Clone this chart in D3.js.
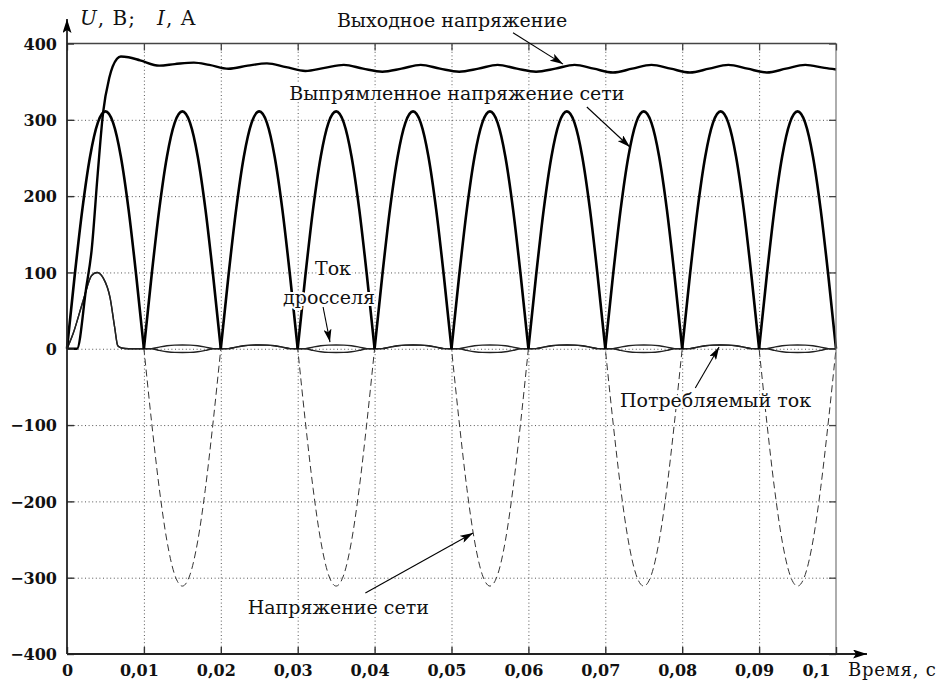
<!DOCTYPE html>
<html><head><meta charset="utf-8">
<script src="https://cdn.jsdelivr.net/npm/d3@7/dist/d3.min.js"></script>
<style>body{margin:0;background:#fff}svg{display:block}</style>
</head><body>
<svg id="chart" width="941" height="688"></svg>
<script>
// ---------- data ----------
const xTicks = [0, 0.01, 0.02, 0.03, 0.04, 0.05, 0.06, 0.07, 0.08, 0.09, 0.1];
const xTickLabels = ["0", "0,01", "0,02", "0,03", "0,04", "0,05", "0,06", "0,07", "0,08", "0,09", "0,1"];
const yTicks = [-400, -300, -200, -100, 0, 100, 200, 300, 400];
const yTickLabels = ["\u2212400", "\u2212300", "\u2212200", "\u2212100", "0", "100", "200", "300", "400"];

// time base for mains voltages: 0 … 0.1 s, 1 ms step
const mainsTime = d3.range(0, 101).map(i => i / 1000);
const mainsVoltage = [
  0, 96, 183, 252, 296, 311, 296, 252, 183, 96,
  0, -96, -183, -252, -296, -311, -296, -252, -183, -96,
  0, 96, 183, 252, 296, 311, 296, 252, 183, 96,
  0, -96, -183, -252, -296, -311, -296, -252, -183, -96,
  0, 96, 183, 252, 296, 311, 296, 252, 183, 96,
  0, -96, -183, -252, -296, -311, -296, -252, -183, -96,
  0, 96, 183, 252, 296, 311, 296, 252, 183, 96,
  0, -96, -183, -252, -296, -311, -296, -252, -183, -96,
  0, 96, 183, 252, 296, 311, 296, 252, 183, 96,
  0, -96, -183, -252, -296, -311, -296, -252, -183, -96,
  0];
const rectifiedVoltage = [
  0, 96, 183, 252, 296, 311, 296, 252, 183, 96,
  0, 96, 183, 252, 296, 311, 296, 252, 183, 96,
  0, 96, 183, 252, 296, 311, 296, 252, 183, 96,
  0, 96, 183, 252, 296, 311, 296, 252, 183, 96,
  0, 96, 183, 252, 296, 311, 296, 252, 183, 96,
  0, 96, 183, 252, 296, 311, 296, 252, 183, 96,
  0, 96, 183, 252, 296, 311, 296, 252, 183, 96,
  0, 96, 183, 252, 296, 311, 296, 252, 183, 96,
  0, 96, 183, 252, 296, 311, 296, 252, 183, 96,
  0, 96, 183, 252, 296, 311, 296, 252, 183, 96,
  0];

const outTime = [0, 0.0013, 0.0025, 0.0032, 0.004, 0.0047, 0.0055, 0.0065, 0.007, 0.008,
  0.0095, 0.012, 0.014, 0.0165, 0.0185, 0.021, 0.0235, 0.026, 0.0285, 0.031,
  0.0335, 0.036, 0.0385, 0.041, 0.0435, 0.046, 0.0485, 0.051, 0.0535, 0.056,
  0.0585, 0.061, 0.0635, 0.066, 0.0685, 0.071, 0.0735, 0.076, 0.0785, 0.081,
  0.0835, 0.086, 0.0885, 0.091, 0.0935, 0.096, 0.0985, 0.1];
const outVoltage = [0, 0, 80, 129, 230, 310, 355, 380, 383, 382,
  378, 371, 373, 375, 372, 367, 371, 374, 369, 364,
  368, 372, 367, 363, 367, 372, 367, 363, 367, 372,
  367, 363, 367, 372, 367, 362, 367, 372, 367, 362,
  367, 372, 367, 362, 367, 372, 368, 366];

const currentTime = [0, 0.0008, 0.0021, 0.0032, 0.0039, 0.0047, 0.0056, 0.0062, 0.0066, 0.0071, 0.008, 0.009]
  .concat(d3.range(10, 101).map(i => i / 1000));
const chokeCurrent = [0, 20, 63, 96, 100, 93, 67, 28, 4, 1, 0, 0,
  0, 0.2, 2.2, 3.9, 4.8, 5, 4.8, 3.9, 2.2, 0.2,
  0, 0.2, 2.2, 3.9, 4.8, 5, 4.8, 3.9, 2.2, 0.2,
  0, 0.2, 2.2, 3.9, 4.8, 5, 4.8, 3.9, 2.2, 0.2,
  0, 0.2, 2.2, 3.9, 4.8, 5, 4.8, 3.9, 2.2, 0.2,
  0, 0.2, 2.2, 3.9, 4.8, 5, 4.8, 3.9, 2.2, 0.2,
  0, 0.2, 2.2, 3.9, 4.8, 5, 4.8, 3.9, 2.2, 0.2,
  0, 0.2, 2.2, 3.9, 4.8, 5, 4.8, 3.9, 2.2, 0.2,
  0, 0.2, 2.2, 3.9, 4.8, 5, 4.8, 3.9, 2.2, 0.2,
  0, 0.2, 2.2, 3.9, 4.8, 5, 4.8, 3.9, 2.2, 0.2,
  0];
const lineCurrent = [0, 20, 63, 96, 100, 93, 67, 28, 4, 1, 0, 0,
  0, -0.2, -2.2, -3.9, -4.8, -5, -4.8, -3.9, -2.2, -0.2,
  0, 0.2, 2.2, 3.9, 4.8, 5, 4.8, 3.9, 2.2, 0.2,
  0, -0.2, -2.2, -3.9, -4.8, -5, -4.8, -3.9, -2.2, -0.2,
  0, 0.2, 2.2, 3.9, 4.8, 5, 4.8, 3.9, 2.2, 0.2,
  0, -0.2, -2.2, -3.9, -4.8, -5, -4.8, -3.9, -2.2, -0.2,
  0, 0.2, 2.2, 3.9, 4.8, 5, 4.8, 3.9, 2.2, 0.2,
  0, -0.2, -2.2, -3.9, -4.8, -5, -4.8, -3.9, -2.2, -0.2,
  0, 0.2, 2.2, 3.9, 4.8, 5, 4.8, 3.9, 2.2, 0.2,
  0, -0.2, -2.2, -3.9, -4.8, -5, -4.8, -3.9, -2.2, -0.2,
  0];

// annotation labels (anchored in data coordinates)
const annotationTexts = ["Выходное напряжение", "Выпрямленное напряжение сети", "Ток", "дросселя", "Потребляемый ток", "Напряжение сети"];
const annotationAt = [[0.0351, 421], [0.0289, 326], [0.03225, 96.6], [0.0281, 58.6], [0.0719, -76.3], [0.0235, -347.6]];
const arrowFrom = [[0.058, 414], [0.0676, 316.8], [0.0333, 54.7], [0.0817, -51.4], [0.0388, -320]];
const arrowTo = [[0.0645, 373], [0.0732, 264.4], [0.0342, 8.8], [0.0848, 2.3], [0.0528, -241.4]];

// ---------- drawing ----------
const svg = d3.select("#chart");
const FONT = "'DejaVu Serif', serif";
const x = d3.scaleLinear().domain([0, 0.1]).range([67, 836]);
const y = d3.scaleLinear().domain([-400, 400]).range([654, 43.5]);
const X0 = x(0), X1 = x(0.1), Y0 = y(-400), Y1 = y(400);

const defs = svg.append("defs");
defs.append("marker").attr("id", "arr").attr("markerUnits", "userSpaceOnUse")
  .attr("markerWidth", 13).attr("markerHeight", 8).attr("refX", 13).attr("refY", 4)
  .attr("orient", "auto")
  .append("path").attr("d", "M0,0 L13,4 L0,8 L3,4 z").attr("fill", "#000");
defs.append("marker").attr("id", "axarr").attr("markerUnits", "userSpaceOnUse")
  .attr("markerWidth", 14).attr("markerHeight", 9).attr("refX", 14).attr("refY", 4.5)
  .attr("orient", "auto")
  .append("path").attr("d", "M0,0 L14,4.5 L0,9 L3,4.5 z").attr("fill", "#000");

// grid
const gridX = svg.append("g").attr("transform", `translate(0,${Y0})`)
  .call(d3.axisBottom(x).tickValues(xTicks.slice(1, -1)).tickSize(-(Y0 - Y1)).tickFormat(""));
const gridY = svg.append("g").attr("transform", `translate(${X0},0)`)
  .call(d3.axisLeft(y).tickValues(yTicks.slice(1, -1)).tickSize(-(X1 - X0)).tickFormat(""));
[gridX, gridY].forEach(g => {
  g.select(".domain").remove();
  g.selectAll("line").attr("stroke", "#555").attr("stroke-width", 1).attr("stroke-dasharray", "1,2.6");
});

// series
const line = d3.line().x(d => x(d[0])).y(d => y(d[1])).curve(d3.curveMonotoneX);

svg.append("path").datum(mainsTime.map((t, i) => [t, mainsVoltage[i]]))
  .attr("d", line).attr("fill", "none").attr("stroke", "#333").attr("stroke-width", 1)
  .attr("stroke-dasharray", "7,4");

svg.append("path").datum(currentTime.map((t, i) => [t, lineCurrent[i]]))
  .attr("d", line).attr("fill", "none").attr("stroke", "#222").attr("stroke-width", 1.4);
svg.append("path").datum(currentTime.map((t, i) => [t, chokeCurrent[i]]))
  .attr("d", line).attr("fill", "none").attr("stroke", "#222").attr("stroke-width", 1.4);

// rectified voltage: one smooth arch between successive zeros (sharp cusps)
const rectPts = mainsTime.map((t, i) => [t, rectifiedVoltage[i]]);
const arches = [];
let cur = [rectPts[0]];
for (let i = 1; i < rectPts.length; i++) {
  cur.push(rectPts[i]);
  if (rectPts[i][1] === 0) { arches.push(cur); cur = [rectPts[i]]; }
}
svg.append("g").selectAll("path").data(arches).join("path")
  .attr("d", line).attr("fill", "none").attr("stroke", "#000").attr("stroke-width", 2.6)
  .attr("stroke-linejoin", "round");

svg.append("path").datum(outTime.map((t, i) => [t, outVoltage[i]]))
  .attr("d", line).attr("fill", "none").attr("stroke", "#000").attr("stroke-width", 2.4);

// frame: top & right borders
svg.append("line").attr("x1", X0).attr("x2", X1).attr("y1", Y1).attr("y2", Y1)
  .attr("stroke", "#444").attr("stroke-width", 1.3);
svg.append("line").attr("x1", X1).attr("x2", X1).attr("y1", Y1).attr("y2", Y0)
  .attr("stroke", "#777").attr("stroke-width", 1.2);

// inner tick marks on top and right
const topAx = svg.append("g").attr("transform", `translate(0,${Y1})`)
  .call(d3.axisTop(x).tickValues(xTicks).tickSize(-7).tickFormat(""));
const rightAx = svg.append("g").attr("transform", `translate(${X1},0)`)
  .call(d3.axisRight(y).tickValues(yTicks).tickSize(-7).tickFormat(""));
[topAx, rightAx].forEach(g => {
  g.select(".domain").remove();
  g.selectAll("line").attr("stroke", "#444").attr("stroke-width", 1.3);
});

// bottom axis
const bottomAx = svg.append("g").attr("transform", `translate(0,${Y0})`)
  .call(d3.axisBottom(x).tickValues(xTicks).tickSize(-7)
    .tickFormat((d, i) => xTickLabels[i]));
bottomAx.select(".domain").remove();
bottomAx.selectAll("line").attr("stroke", "#333").attr("stroke-width", 1.4);
bottomAx.selectAll("text")
  .attr("y", 22).attr("dy", 0)
  .attr("dx", (d, i) => i === 0 ? 0 : (i === xTicks.length - 1 ? -20 : -5))
  .attr("font-family", FONT).attr("font-weight", "bold").attr("font-size", 16).attr("fill", "#111");

// left axis
const leftAx = svg.append("g").attr("transform", `translate(${X0},0)`)
  .call(d3.axisLeft(y).tickValues(yTicks).tickSize(-7)
    .tickFormat((d, i) => yTickLabels[i]));
leftAx.select(".domain").remove();
leftAx.selectAll("line").attr("stroke", "#333").attr("stroke-width", 1.4);
leftAx.selectAll("text")
  .attr("x", -10).attr("dy", "0.36em")
  .attr("font-family", FONT).attr("font-weight", "bold").attr("font-size", 16).attr("fill", "#111");

// axis lines with arrows
svg.append("line").attr("x1", X0).attr("y1", Y0).attr("x2", X0).attr("y2", 19)
  .attr("stroke", "#222").attr("stroke-width", 1.8).attr("marker-end", "url(#axarr)");
svg.append("line").attr("x1", X0).attr("y1", Y0).attr("x2", 867).attr("y2", Y0)
  .attr("stroke", "#222").attr("stroke-width", 1.8).attr("marker-end", "url(#axarr)");

// axis titles
const yt = svg.append("text").attr("y", 25)
  .attr("font-family", FONT).attr("font-size", 20).attr("fill", "#111").attr("letter-spacing", 1);
yt.append("tspan").attr("x", 80).attr("font-style", "italic").text("U");
yt.append("tspan").text(", В;");
yt.append("tspan").attr("x", 157).attr("font-style", "italic").text("I");
yt.append("tspan").text(", А");

svg.append("text").attr("x", 848).attr("y", 676)
  .attr("font-family", FONT).attr("font-size", 18).attr("letter-spacing", 0.8)
  .attr("fill", "#111").text("Время, с");

// annotations
svg.append("g").selectAll("line").data(arrowFrom).join("line")
  .attr("x1", d => x(d[0])).attr("y1", d => y(d[1]))
  .attr("x2", (d, i) => x(arrowTo[i][0])).attr("y2", (d, i) => y(arrowTo[i][1]))
  .attr("stroke", "#000").attr("stroke-width", 1.1).attr("marker-end", "url(#arr)");

svg.append("g").selectAll("text").data(annotationTexts).join("text")
  .attr("x", (d, i) => x(annotationAt[i][0]))
  .attr("y", (d, i) => y(annotationAt[i][1]))
  .attr("font-family", FONT).attr("font-size", 19).attr("fill", "#111")
  .attr("stroke", "#fff").attr("stroke-width", 4).attr("paint-order", "stroke")
  .attr("stroke-linejoin", "round")
  .text(d => d);
</script>
</body></html>
